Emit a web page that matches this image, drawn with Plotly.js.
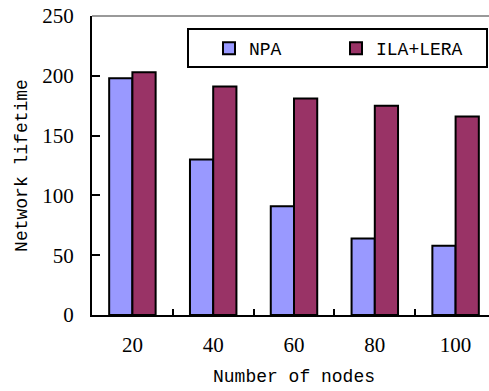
<!DOCTYPE html>
<html><head><meta charset="utf-8">
<script src="https://cdn.plot.ly/plotly-3.0.1.min.js"></script>
<style>html,body{margin:0;padding:0;overflow:hidden;background:#fff}</style>
</head><body><div id="chart" style="width:497px;height:391px"></div>
<script>
const categories = ['20','40','60','80','100'];
const npaValues = [198,130,91,64,58];
const ilaValues = [203,191,181,175,166];
const seriesNames = ['NPA','ILA+LERA'];
const yTickValues = [0,50,100,150,200,250];

const W = 497, H = 391, L = 92, R = 1, T = 16, B = 76;
const pw = W - L - R, ph = H - T - B;
const px = x => (x - L) / pw;
const py = y => (H - B - y) / ph;

const monoFont = 'Liberation Mono, monospace';
const serifFont = 'Liberation Serif, serif';

const traces = [
  {type:'bar', name:seriesNames[0], x:categories, y:npaValues,
   marker:{color:'#9999FF', line:{color:'#000', width:2}}},
  {type:'bar', name:seriesNames[1], x:categories, y:ilaValues,
   marker:{color:'#993366', line:{color:'#000', width:2}}}
];

const layout = {
  width: W, height: H,
  margin: {l:L, r:R, t:T, b:B, pad:0},
  paper_bgcolor:'#fff', plot_bgcolor:'#fff',
  barmode:'group', bargap:0.425, bargroupgap:0,
  showlegend:true,
  legend:{orientation:'h', x:px(209), xanchor:'left', y:py(30), yanchor:'top',
          bgcolor:'rgba(0,0,0,0)', borderwidth:0,
          entrywidth:82, entrywidthmode:'pixels',
          font:{family:monoFont, size:18, color:'#000'}},
  xaxis:{type:'category', range:[-0.5,4.5],
         showline:true, linecolor:'#000', linewidth:2,
         ticks:'inside', tickson:'boundaries', ticklen:6, tickwidth:2, tickcolor:'#000',
         showgrid:false, zeroline:false,
         tickfont:{family:serifFont, size:21, color:'#000'},
         ticklabelstandoff:10,
         title:{text:'Number of nodes', font:{family:monoFont, size:18, color:'#000'}, standoff:13}},
  yaxis:{range:[0,250], tickvals:yTickValues, ticktext:yTickValues.map(String),
         showline:true, linecolor:'#000', linewidth:2,
         ticks:'inside', ticklen:8, tickwidth:2, tickcolor:'#000',
         showgrid:false, zeroline:false,
         tickfont:{family:serifFont, size:21, color:'#000'},
         ticklabelstandoff:12,
         title:{text:'Network lifetime', font:{family:monoFont, size:18, color:'#000'}, standoff:10}},
  shapes:[
    {type:'line', xref:'paper', yref:'paper', x0:0, x1:1, y0:1, y1:1,
     line:{color:'#999', width:2}},
    {type:'rect', xref:'paper', yref:'paper', x0:px(188), x1:px(487), y0:py(67), y1:py(29),
     line:{color:'#000', width:2}, fillcolor:'#fff', layer:'above'}
  ]
};

Plotly.newPlot('chart', traces, layout, {displayModeBar:false, staticPlot:true});
</script></body></html>
